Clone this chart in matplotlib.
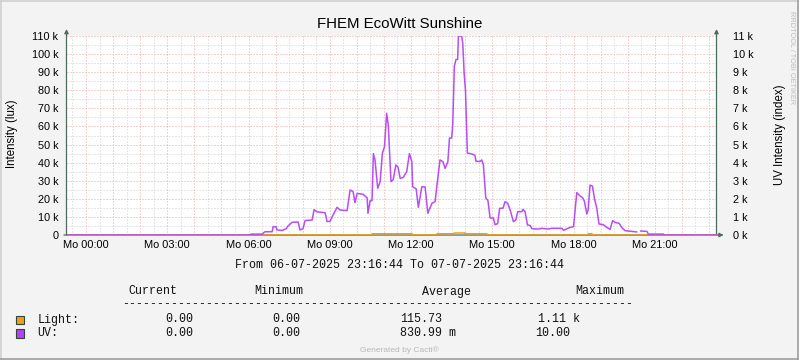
import matplotlib
matplotlib.use("Agg")
import matplotlib.pyplot as plt
from matplotlib.lines import Line2D
from matplotlib.patches import Rectangle

# ---------------- data ----------------
title = "FHEM EcoWitt Sunshine"
left_label = "Intensity (lux)"
right_label = "UV Intensity (index)"
period_text = "From 06-07-2025 23:16:44 To 07-07-2025 23:16:44"

# time axis in hours relative to Monday 00:00
t_start, t_end = -0.7211, 23.2789
x_tick_hours = [0, 3, 6, 9, 12, 15, 18, 21]
x_tick_labels = ["Mo 00:00", "Mo 03:00", "Mo 06:00", "Mo 09:00",
                 "Mo 12:00", "Mo 15:00", "Mo 18:00", "Mo 21:00"]

left_ticks = [0, 10000, 20000, 30000, 40000, 50000, 60000, 70000, 80000, 90000, 100000, 110000]
left_tick_labels = ["0", "10 k", "20 k", "30 k", "40 k", "50 k", "60 k", "70 k",
                    "80 k", "90 k", "100 k", "110 k"]
right_ticks = [0, 1000, 2000, 3000, 4000, 5000, 6000, 7000, 8000, 9000, 10000, 11000]
right_tick_labels = ["0 k", "1 k", "2 k", "3 k", "4 k", "5 k", "6 k", "7 k",
                     "8 k", "9 k", "10 k", "11 k"]

# UV series (right axis units, thousands)
uv_hours = [-0.72, 6.05, 6.09, 6.50, 6.61, 6.87, 6.91, 7.02, 7.05, 7.24, 7.39, 7.46,
            7.61, 7.83, 7.90, 8.01, 8.09, 8.35, 8.42, 8.53, 8.83, 8.90, 9.01, 9.12,
            9.27, 9.38, 9.64, 9.75, 9.86, 9.93, 10.01, 10.23, 10.38, 10.41, 10.49,
            10.56, 10.61, 10.67, 10.77, 10.86, 10.94, 11.02, 11.10, 11.16, 11.26,
            11.34, 11.44, 11.52, 11.60, 11.71, 11.84, 11.94, 12.03, 12.06, 12.19,
            12.27, 12.40, 12.52, 12.62, 12.77, 12.89, 12.95, 13.07, 13.18, 13.26,
            13.36, 13.42, 13.50, 13.54, 13.60, 13.66, 13.72, 13.75, 13.87, 13.91,
            13.96, 14.01, 14.08, 14.25, 14.36, 14.40, 14.55, 14.61, 14.67, 14.76,
            14.84, 14.92, 15.04, 15.10, 15.20, 15.27, 15.40, 15.47, 15.57, 15.66,
            15.78, 15.87, 15.94, 16.09, 16.13, 16.21, 16.30, 16.40, 16.46, 16.69,
            16.83, 17.06, 17.20, 17.57, 17.63, 17.75, 17.87, 18.00, 18.06, 18.12,
            18.24, 18.33, 18.40, 18.49, 18.54, 18.61, 18.70, 18.77, 18.86, 18.94,
            19.10, 19.23, 19.35, 19.44, 19.56, 19.68, 19.78, 19.90, 20.15, 20.33,
            20.40, 20.48, 20.71, 20.76, 21.32, 21.34, 23.28]
uv_k = [0.0, 0.0, 0.05, 0.05, 0.18, 0.18, 0.46, 0.45, 0.28, 0.25, 0.35, 0.50,
        0.70, 0.72, 0.28, 0.35, 0.80, 0.83, 1.40, 1.28, 1.23, 0.74, 0.76, 1.10,
        1.53, 1.38, 1.35, 2.49, 2.40, 1.79, 2.30, 2.25, 2.05, 1.20, 1.90,
        1.90, 4.50, 4.15, 2.58, 2.95, 4.50, 4.88, 6.73, 6.08, 2.95,
        3.05, 3.87, 3.75, 3.13, 3.18, 3.50, 4.50, 4.05, 2.67, 2.55,
        1.53, 2.67, 2.65, 1.20, 1.75, 1.85, 2.67, 4.15, 4.05, 3.68,
        4.05, 5.36, 5.36, 6.10, 9.33, 9.70, 9.70, 11.00, 11.00, 10.60,
        8.96, 8.00, 4.53, 4.48, 4.40, 4.07, 4.07, 4.15, 3.90, 2.05,
        1.90, 0.94, 0.94, 0.57, 0.63, 1.47, 1.49, 1.84, 1.75, 1.38,
        0.74, 0.83, 1.29, 1.29, 1.42, 1.29, 0.55, 0.53, 0.35, 0.33,
        0.37, 0.33, 0.37, 0.37, 0.26, 0.34, 0.42, 0.46, 1.38, 2.34,
        2.16, 2.07, 1.87, 1.16, 1.40, 2.76, 2.70, 2.03, 1.47, 0.61,
        0.57, 0.42, 0.31, 0.79, 0.68, 0.65, 0.42, 0.24, 0.20, 0.17,
        None, 0.22, 0.20, 0.05, 0.05, 0.0, 0.0]

# Light series (lux)
light_hours = [-0.72, 10.55, 10.56, 12.04, 12.05, 12.95, 12.96, 13.59, 13.60, 14.00,
               14.01, 14.80, 14.81, 18.53, 18.54, 18.68, 18.69, 23.28]
light_lux = [0, 0, 700, 700, 0, 0, 700, 700, 1110, 1110,
             700, 700, 0, 0, 700, 700, 0, 0]

legend_headers = ["Current", "Minimum", "Average", "Maximum"]
legend_names = ["Light:", "UV:"]
legend_values = [["0.00", "0.00", "115.73", "1.11 k"],
                 ["0.00", "0.00", "830.99 m", "10.00"]]

# ---------------- style ----------------
W, H = 799, 360
BG = "#F3F3F3"
AXC = "#4E6B60"
MGRID = "#EBA6A6"
GRID = "#CFCFCF"
UVC = "#B344F6"
LIGHTC = "#EBA115"
SANS = ["Liberation Sans", "DejaVu Sans"]
MONO = ["Liberation Mono", "DejaVu Sans Mono"]

plt.rcParams["font.family"] = SANS


def fx(x):
    return x / W


def fy(y):
    return 1 - y / H


fig = plt.figure(figsize=(W / 100, H / 100), dpi=100, facecolor=BG)
x0, x1, ytop, ybot = 66.5, 716.5, 36.0, 235.0
ax = fig.add_axes([fx(x0), fy(ybot), (x1 - x0) / W, (ybot - ytop) / H])
ax.set_facecolor("white")
ax.set_xlim(t_start, t_end)
ax.set_ylim(0, 110000)
for s in ax.spines.values():
    s.set_visible(False)

dot = (0, (1, 2))
# minor grid
h = -0.5
while h < t_end:
    if abs(h - round(h)) > 0.01:
        ax.axvline(h, color=GRID, lw=0.72, ls=dot, zorder=1)
    h += 0.5
for v in range(5000, 110000, 10000):
    ax.axhline(v, color=GRID, lw=0.72, ls=dot, zorder=1)
# major grid
for hh in range(0, 24):
    if hh < t_end:
        ax.axvline(hh, color=MGRID, lw=0.72, ls=dot, zorder=1.5)
for v in left_ticks[1:]:
    ax.axhline(v, color=MGRID, lw=0.72, ls=dot, zorder=1.5)

ax.set_yticks(left_ticks)
ax.set_yticklabels(left_tick_labels)
ax.set_xticks(x_tick_hours)
ax.set_xticklabels(x_tick_labels)
ax.tick_params(axis="y", length=0, pad=5.9, labelsize=7.8, colors="black")
ax.tick_params(axis="x", length=0, pad=3.3, labelsize=7.9, colors="black")

ax2 = ax.twinx()
ax2.set_ylim(0, 11000)
for s in ax2.spines.values():
    s.set_visible(False)
ax2.set_yticks(right_ticks)
ax2.set_yticklabels(right_tick_labels)
ax2.tick_params(axis="y", length=0, pad=12.1, labelsize=7.8, colors="black")

# axes with arrows
ap = dict(arrowstyle="-|>", color=AXC, lw=0.9, mutation_scale=6, shrinkA=0, shrinkB=0)
ax2.annotate("", xy=(0, 1.035), xytext=(0, 0), xycoords="axes fraction",
             textcoords="axes fraction", arrowprops=ap, zorder=2)
ax2.annotate("", xy=(1, 1.035), xytext=(1, 0), xycoords="axes fraction",
             textcoords="axes fraction", arrowprops=ap, zorder=2)
ax2.annotate("", xy=(1.011, 0), xytext=(-0.004, 0), xycoords="axes fraction",
             textcoords="axes fraction", arrowprops=ap, zorder=2)

# light series uses the left (lux) scale; drawn first, UV on top
ax2.plot(light_hours, light_lux, color=LIGHTC, lw=1.1, zorder=3, transform=ax.transData)
uv_y = [float("nan") if v is None else v * 1000 for v in uv_k]
ax2.plot(uv_hours, uv_y, color=UVC, lw=1.1, zorder=4, alpha=0.95)

# texts
fig.text(fx(399.5), fy(28.3), title, ha="center", va="baseline", fontsize=10.8)
fig.text(fx(12), fy(134), left_label, ha="center", va="center", rotation=90, fontsize=8.3)
fig.text(fx(780), fy(135), right_label, ha="center", va="center", rotation=90, fontsize=8.3)
fig.text(fx(791), fy(58), "RRDTOOL / TOBI OETIKER", ha="center", va="center",
         rotation=-90, fontsize=5.3, color="#BDBDBD")
fig.text(fx(399.5), fy(267.5), period_text, ha="center", va="baseline",
         fontsize=8.4, family=MONO, color="#111111")

hdr_x = [128.3, 254.0, 421.7, 575.7]
for t, xx in zip(legend_headers, hdr_x):
    fig.text(fx(xx), fy(294.5), t, ha="left", va="baseline", fontsize=8.4, family=MONO,
             color="#111111")
fig.text(fx(122), fy(307), "-" * 73, ha="left", va="baseline", fontsize=8.4, family=MONO,
         color="#111111")

row_y = [322.5, 336.0]
val_x = [[165.7, 272.7, 400.0, 538.3], [165.7, 272.7, 400.0, 535.0]]
sw_col = [LIGHTC, UVC]
for i in range(2):
    fig.text(fx(37.3), fy(row_y[i]), legend_names[i], ha="left", va="baseline",
             fontsize=8.4, family=MONO, color="#111111")
    for v, xx in zip(legend_values[i], val_x[i]):
        fig.text(fx(xx), fy(row_y[i]), v, ha="left", va="baseline", fontsize=8.4, family=MONO,
                 color="#111111")
    sy = 315.5 + i * 13.5
    fig.add_artist(Rectangle((fx(15.5), fy(sy + 8.5)), 8.5 / W, 8.5 / H,
                             transform=fig.transFigure, facecolor=sw_col[i],
                             edgecolor="#33443C", lw=0.8))

fig.text(fx(399.5), fy(351.5), "Generated by Cacti®", ha="center", va="baseline",
         fontsize=6.0, color="#B8B8B8")

# frame shading
fig.add_artist(Line2D([0, 1], [fy(0.5)] * 2, transform=fig.transFigure, color="#CFCFCF", lw=1.2))
fig.add_artist(Line2D([fx(0.5)] * 2, [0, 1], transform=fig.transFigure, color="#CFCFCF", lw=1.2))
fig.add_artist(Line2D([0, 1], [fy(359.3)] * 2, transform=fig.transFigure, color="#9E9E9E", lw=1.2))
fig.add_artist(Line2D([fx(798.3)] * 2, [0, 1], transform=fig.transFigure, color="#9E9E9E", lw=1.2))

fig.savefig("out.png", dpi=100, facecolor=BG)
